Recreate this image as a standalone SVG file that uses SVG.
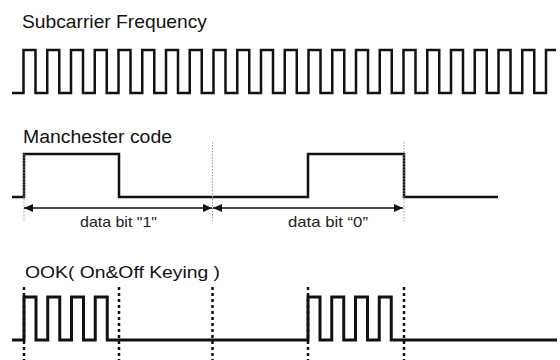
<svg xmlns="http://www.w3.org/2000/svg" width="560" height="360" viewBox="0 0 560 360">
  <style>
    .title { font-family: "Liberation Sans", Arial, sans-serif; fill: #111; }
    .lbl { font-family: "Liberation Sans", Arial, sans-serif; fill: #222; font-size: 15px; }
    .wave { fill: none; stroke: #111; stroke-linejoin: miter; }
    .thin { stroke: #999; stroke-width: 1; stroke-dasharray: 1.5 1.5; fill: none; }
    .thick { stroke: #111; stroke-width: 2.5; stroke-dasharray: 3 3; fill: none; }
    .dim { stroke: #111; stroke-width: 1.5; fill: none; }
  </style>
  <defs>
    <marker id="ah" viewBox="0 0 9 8" refX="9" refY="4" markerWidth="9" markerHeight="8" markerUnits="userSpaceOnUse" orient="auto-start-reverse">
      <path d="M0,0 L9,4 L0,8 z" fill="#111"/>
    </marker>
  </defs>
  <rect width="560" height="360" fill="#fff"/>

  <g id="subcarrier">
    <text class="title" x="22" y="28" font-size="18.5" textLength="185" lengthAdjust="spacingAndGlyphs">Subcarrier Frequency</text>
    <path class="wave" stroke-width="2.5" d="M12,93 H23.5 V50 h12 V93 h11.75 V50 h12 V93 h11.75 V50 h12 V93 h11.75 V50 h12 V93 h11.75 V50 h12 V93 h11.75 V50 h12 V93 h11.75 V50 h12 V93 h11.75 V50 h12 V93 h11.75 V50 h12 V93 h11.75 V50 h12 V93 h11.75 V50 h12 V93 h11.75 V50 h12 V93 h11.75 V50 h12 V93 h11.75 V50 h12 V93 h11.75 V50 h12 V93 h11.75 V50 h12 V93 h11.75 V50 h12 V93 h11.75 V50 h12 V93 h11.75 V50 h12 V93 h11.75 V50 h12 V93 h11.75 V50 h12 V93 h11.75 V50 h12 V93 h11.75 V50 H556"/>
  </g>

  <g id="manchester">
    <text class="title" x="23" y="143" font-size="18" textLength="149" lengthAdjust="spacingAndGlyphs">Manchester code</text>
    <path class="wave" stroke-width="2.5" d="M12,197 H24 V154 H119 V197 H308 V154 H404 V197 H498"/>
  </g>

  <g id="connectors">
    <line class="thin" x1="24" y1="154" x2="24" y2="221"/>
    <line class="thin" x1="212.5" y1="142" x2="212.5" y2="221"/>
    <line class="thin" x1="404" y1="142" x2="404" y2="222"/>
    <line class="dim" x1="24" y1="208" x2="212" y2="208" marker-start="url(#ah)" marker-end="url(#ah)"/>
    <line class="dim" x1="213" y1="208" x2="403" y2="208" marker-start="url(#ah)" marker-end="url(#ah)"/>
    <line class="thick" x1="24" y1="287" x2="24" y2="360"/>
    <line class="thick" x1="119" y1="287" x2="119" y2="360"/>
    <line class="thick" x1="212.5" y1="287" x2="212.5" y2="360"/>
    <line class="thick" x1="308" y1="287" x2="308" y2="360"/>
    <line class="thick" x1="404" y1="287" x2="404" y2="360"/>
  </g>

  <g id="bit-labels">
    <text class="lbl" x="80" y="226.5" textLength="77" lengthAdjust="spacingAndGlyphs">data bit "1"</text>
    <text class="lbl" x="288" y="227" textLength="80" lengthAdjust="spacingAndGlyphs">data bit “0”</text>
  </g>

  <g id="ook">
    <text class="title" x="25" y="278" font-size="16" textLength="195" lengthAdjust="spacingAndGlyphs">OOK( On&amp;Off Keying )</text>
    <path class="wave" stroke-width="3" d="M12,340 H24 V297 h12 V340 h11.75 V297 h12 V340 h11.75 V297 h12 V340 h11.75 V297 h12 V340 H308 V297 h12 V340 h11.75 V297 h12 V340 h11.75 V297 h12 V340 h11.75 V297 h12 V340 H557"/>
  </g>
</svg>
